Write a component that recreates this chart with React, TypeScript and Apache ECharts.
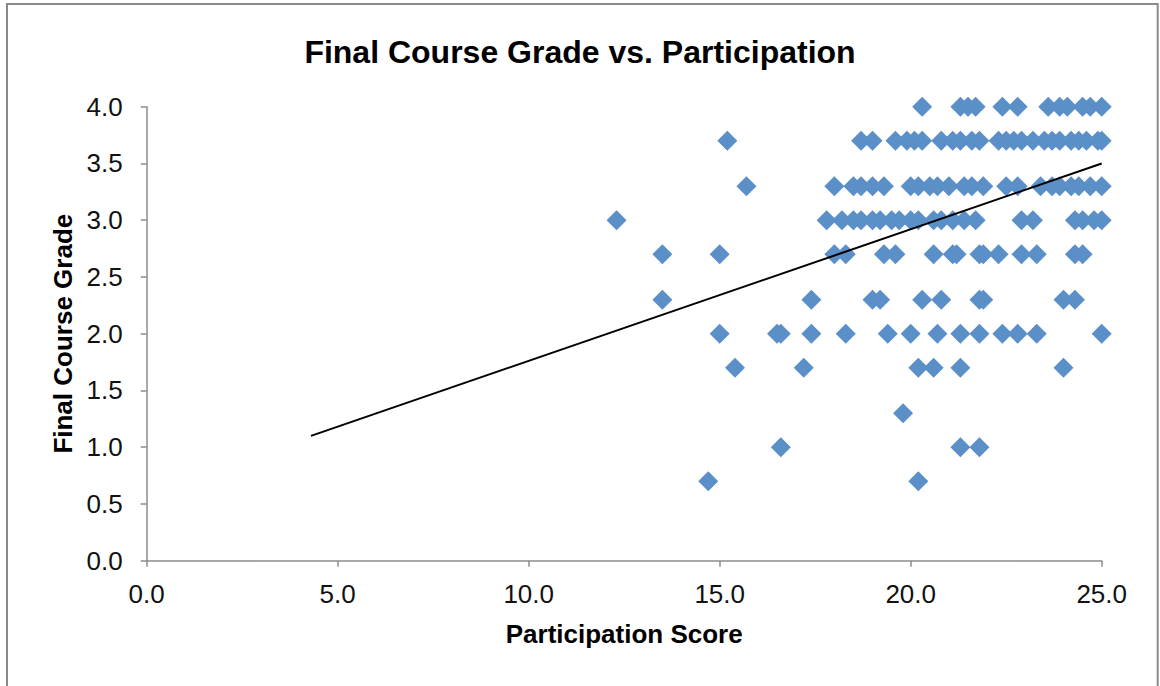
import React, { useEffect, useRef } from "react";
import * as echarts from "echarts";

// Participation scores grouped by final course grade
const grade40 = [20.3, 21.3, 21.5, 21.7, 22.4, 22.8, 23.6, 23.9, 24.1, 24.5, 24.7, 25.0];
const grade37 = [15.2, 18.7, 19.0, 19.6, 19.9, 20.1, 20.3, 20.8, 21.1, 21.3, 21.6, 21.8, 22.3, 22.5, 22.7, 22.9, 23.2, 23.5, 23.7, 23.9, 24.2, 24.4, 24.6, 24.9, 25.0];
const grade33 = [15.7, 18.0, 18.5, 18.7, 19.0, 19.3, 20.0, 20.2, 20.5, 20.7, 21.0, 21.4, 21.6, 21.9, 22.5, 22.8, 23.4, 23.7, 23.9, 24.2, 24.4, 24.7, 25.0];
const grade30 = [12.3, 17.8, 18.2, 18.5, 18.7, 19.0, 19.2, 19.5, 19.7, 20.0, 20.2, 20.6, 20.8, 21.1, 21.4, 21.7, 22.9, 23.2, 24.3, 24.5, 24.8, 25.0];
const grade27 = [13.5, 15.0, 18.0, 18.3, 19.3, 19.6, 20.6, 21.1, 21.2, 21.8, 21.9, 22.3, 22.9, 23.3, 24.3, 24.5];
const grade23 = [13.5, 17.4, 19.0, 19.2, 20.3, 20.8, 21.8, 21.9, 24.0, 24.3];
const grade20 = [15.0, 16.5, 16.6, 17.4, 18.3, 19.4, 20.0, 20.7, 21.3, 21.8, 22.4, 22.8, 23.3, 25.0];
const grade17 = [15.4, 17.2, 20.2, 20.6, 21.3, 24.0];
const grade13 = [19.8];
const grade10 = [16.6, 21.3, 21.8];
const grade07 = [14.7, 20.2];

const gradeLevels = [4.0, 3.7, 3.3, 3.0, 2.7, 2.3, 2.0, 1.7, 1.3, 1.0, 0.7];
const scoresByGrade = [grade40, grade37, grade33, grade30, grade27, grade23, grade20, grade17, grade13, grade10, grade07];

// Linear trendline end points
const trendX = [4.3, 25.0];
const trendY = [1.1, 3.5];

const title = "Final Course Grade vs. Participation";
const xName = "Participation Score";
const yName = "Final Course Grade";

export default function App() {
  const ref = useRef<HTMLDivElement>(null);
  useEffect(() => {
    if (!ref.current) return;
    const chart = echarts.init(ref.current, undefined, { renderer: "svg" });
    const points: number[][] = [];
    scoresByGrade.forEach((arr, i) => {
      arr.forEach((s) => points.push([s, gradeLevels[i]]));
    });
    const trend = trendX.map((x, i) => [x, trendY[i]]);
    const font = "'Liberation Sans', Arial, Helvetica, sans-serif";
    const axisColor = "#8c8c8c";
    chart.setOption({
      animation: false,
      backgroundColor: "#ffffff",
      textStyle: { fontFamily: font },
      title: {
        text: title,
        left: "center",
        top: 31,
        textStyle: { fontFamily: font, fontSize: 32, fontWeight: "bold", color: "#000" },
      },
      graphic: [
        {
          type: "rect",
          shape: { x: 7, y: 4, width: 1150.7, height: 800 },
          style: { fill: "none", stroke: "#8a8a8a", lineWidth: 2 },
          silent: true,
        },
      ],
      grid: { left: 146.7, right: 58.3, top: 106.7, bottom: 125.3 },
      xAxis: {
        type: "value",
        min: 0,
        max: 25,
        interval: 5,
        name: xName,
        nameLocation: "middle",
        nameGap: 60,
        nameTextStyle: { fontFamily: font, fontSize: 26, fontWeight: "bold", color: "#000" },
        axisLine: { show: true, lineStyle: { color: axisColor, width: 1.5 } },
        axisTick: { show: true, length: 6, lineStyle: { color: axisColor, width: 1.5 } },
        axisLabel: {
          margin: 20,
          fontSize: 26,
          color: "#111",
          fontFamily: font,
          formatter: (v: number) => v.toFixed(1),
        },
        splitLine: { show: false },
      },
      yAxis: {
        type: "value",
        min: 0,
        max: 4,
        interval: 0.5,
        name: yName,
        nameLocation: "middle",
        nameGap: 68,
        nameRotate: 90,
        nameTextStyle: { fontFamily: font, fontSize: 26, fontWeight: "bold", color: "#000" },
        axisLine: { show: true, lineStyle: { color: axisColor, width: 1.5 } },
        axisTick: { show: true, length: 6, lineStyle: { color: axisColor, width: 1.5 } },
        axisLabel: {
          margin: 24,
          fontSize: 26,
          color: "#111",
          fontFamily: font,
          formatter: (v: number) => v.toFixed(1),
        },
        splitLine: { show: false },
      },
      series: [
        {
          type: "scatter",
          data: points,
          symbol: "diamond",
          symbolSize: 20,
          itemStyle: { color: "#5A8FC7", opacity: 1 },
          z: 2,
        },
        {
          type: "line",
          data: trend,
          symbol: "none",
          lineStyle: { color: "#000", width: 2 },
          z: 3,
        },
      ],
    });
    return () => chart.dispose();
  }, []);
  return (
    <div
      ref={ref}
      style={{ position: "absolute", left: 0, top: 0, width: 1160, height: 686 }}
    />
  );
}
